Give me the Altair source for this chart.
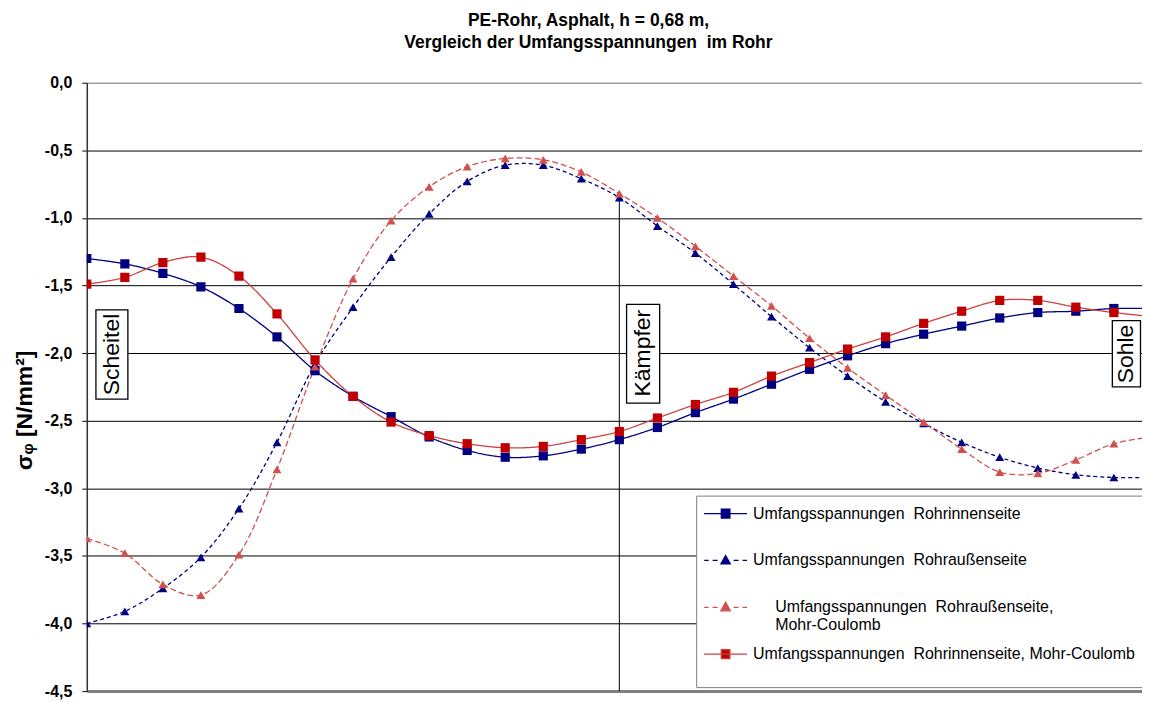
import altair as alt
import pandas as pd

# ---------------- data ----------------
idx = list(range(29))  # node index along the half circumference (Scheitel=0, Kämpfer=14, Sohle=28)

inner = [-1.30, -1.34, -1.41, -1.51, -1.67, -1.88, -2.13, -2.32, -2.47, -2.62,
         -2.72, -2.77, -2.76, -2.71, -2.64, -2.55, -2.44, -2.34, -2.23, -2.12,
         -2.02, -1.93, -1.86, -1.80, -1.74, -1.70, -1.69, -1.67, -1.67]
outer = [-4.00, -3.91, -3.74, -3.51, -3.15, -2.66, -2.08, -1.66, -1.29, -0.97,
         -0.73, -0.61, -0.61, -0.71, -0.85, -1.06, -1.26, -1.49, -1.73, -1.96,
         -2.17, -2.36, -2.52, -2.66, -2.77, -2.85, -2.90, -2.92, -2.92]
outer_mc = [-3.37, -3.48, -3.71, -3.79, -3.49, -2.86, -2.10, -1.45, -1.02, -0.77,
            -0.62, -0.56, -0.57, -0.66, -0.82, -1.00, -1.21, -1.43, -1.65, -1.89,
            -2.11, -2.31, -2.51, -2.71, -2.88, -2.89, -2.79, -2.67, -2.62]
inner_mc = [-1.49, -1.44, -1.33, -1.29, -1.43, -1.71, -2.05, -2.32, -2.51, -2.61,
            -2.67, -2.70, -2.69, -2.64, -2.58, -2.48, -2.38, -2.29, -2.17, -2.07,
            -1.97, -1.88, -1.78, -1.69, -1.61, -1.61, -1.66, -1.70, -1.73]

NB = "\u00a0"
ZW = "\u200b"
series_names = [
    "Umfangsspannungen" + NB + NB + "Rohrinnenseite",
    "Umfangsspannungen" + NB + NB + "Rohraußenseite",
    ZW + NB * 5 + "Umfangsspannungen" + NB + NB + "Rohraußenseite,|" + ZW + NB * 5 + "Mohr-Coulomb",
    "Umfangsspannungen" + NB + NB + "Rohrinnenseite, Mohr-Coulomb",
]
series_ids = ["s1", "s2", "s3", "s4"]
series_values = [inner, outer, outer_mc, inner_mc]

line_colors = ["#000080", "#000080", "#D05050", "#CC4040"]
marker_colors = ["#000080", "#000080", "#D05050", "#C00000"]
dashes = [[1, 0], [4, 3], [6, 3], [1, 0]]

# legend symbols: line + marker drawn as custom SVG paths
SOLID_SQ = "M-1.0,0H3.3M0.72,-0.45H1.58V0.45H0.72Z"
DASH_TRI = ("M-1.0,0H-0.55M-0.15,0H0.35M1.95,0H2.45M2.85,0H3.3"
            "M1.15,-0.5L1.62,0.35L0.68,0.35Z")
legend_paths = [SOLID_SQ, DASH_TRI, DASH_TRI, SOLID_SQ]

y_ticks = [0.0, -0.5, -1.0, -1.5, -2.0, -2.5, -3.0, -3.5, -4.0, -4.5]

# annotation labels (Scheitel / Kämpfer / Sohle)
ann_text = ["Scheitel", "Kämpfer", "Sohle"]
ann_x = [0.66, 14.63, 27.33]
ann_y = [-2.01, -2.00, -2.007]
ann_x1 = [0.24, 14.19, 26.96]
ann_x2 = [1.08, 15.06, 27.70]
ann_y1 = [-1.68, -1.64, -1.76]
ann_y2 = [-2.34, -2.37, -2.25]

kaempfer_x = [14]
kaempfer_y1 = [-0.82]
kaempfer_y2 = [-4.5]

# ---------------- tables ----------------
rows = []
for sid, name, vals in zip(series_ids, series_names, series_values):
    for i, v in zip(idx, vals):
        rows.append({"idx": i, "val": v, "series": name, "sid": sid})
df = pd.DataFrame(rows)

ann = pd.DataFrame({"text": ann_text, "x": ann_x, "y": ann_y,
                    "x1": ann_x1, "x2": ann_x2, "y1": ann_y1, "y2": ann_y2})
kdf = pd.DataFrame({"x": kaempfer_x, "y1": kaempfer_y1, "y2": kaempfer_y2})

XMAX = 27.74
FONT = "Liberation Sans"

xscale = alt.Scale(domain=[0, XMAX], nice=False, zero=False)
yscale = alt.Scale(domain=[-4.5, 0], nice=False)

x_enc = alt.X("idx:Q", scale=xscale,
              axis=alt.Axis(title=None, labels=False, ticks=False, grid=False,
                            domainColor="#808080", domainWidth=3))
y_enc = alt.Y("val:Q", scale=yscale,
              axis=alt.Axis(
                  title="σᵩ [N/mm²]",
                  values=y_ticks,
                  labelExpr="(datum.value < 0 ? '-' : '') + replace(format(abs(datum.value), '.1f'), '.', ',')",
                  labelFont=FONT, labelFontSize=16, labelFontWeight="bold", labelColor="black",
                  labelPadding=10,
                  tickSize=5, tickColor="black", tickWidth=1,
                  domainColor="#333333", domainWidth=1.5,
                  grid=True, gridWidth=1,
                  gridColor={"condition": {"test": "datum.value === 0", "value": "#808080"}, "value": "black"},
                  titleFont=FONT, titleFontSize=23, titleFontWeight="bold", titleColor="black",
                  titleAngle=270, titleAlign="center", titleBaseline="middle",
                  titleX=-62, titleY=328,
              ))

base = alt.Chart(df)

lines = base.mark_line(interpolate="catmull-rom", strokeWidth=1.3, clip=True).encode(
    x=x_enc,
    y=y_enc,
    color=alt.Color("sid:N", scale=alt.Scale(domain=series_ids, range=line_colors), legend=None),
    strokeDash=alt.StrokeDash("sid:N", scale=alt.Scale(domain=series_ids, range=dashes), legend=None),
    order=alt.Order("idx:Q"),
)

shapes = ["square", "triangle-up", "triangle-up", "square"]
sizes = [85, 80, 80, 85]
point_layers = []
for sid, col, shp, sz in zip(series_ids, marker_colors, shapes, sizes):
    point_layers.append(
        base.transform_filter(alt.datum.sid == sid).mark_point(
            filled=True, shape=shp, size=sz, color=col, opacity=1, clip=True
        ).encode(x="idx:Q", y="val:Q")
    )

legend_layer = base.transform_filter("datum.idx < 0").mark_point(filled=True, strokeWidth=1.3).encode(
    x="idx:Q", y="val:Q",
    fill=alt.Fill("series:N", scale=alt.Scale(domain=series_names, range=marker_colors)),
    stroke=alt.Stroke("series:N", scale=alt.Scale(domain=series_names, range=line_colors)),
    shape=alt.Shape("series:N", scale=alt.Scale(domain=series_names, range=legend_paths),
                    legend=alt.Legend(
                        title=None, orient="none", legendX=611, legendY=414,
                        direction="vertical",
                        symbolSize=400, symbolStrokeWidth=1.3, symbolOpacity=1,
                        labelFont=FONT, labelFontSize=16, labelColor="black",
                        labelOffset=28, labelLimit=600,
                        labelExpr="indexof(datum.label, '|') >= 0 ? split(datum.label, '|') : [datum.label, '']",
                        rowPadding=10, padding=7,
                        strokeColor="#808080", fillColor="white",
                    )),
)

rule = alt.Chart(kdf).mark_rule(color="black", strokeWidth=1).encode(
    x="x:Q", y="y1:Q", y2="y2:Q")

boxes = alt.Chart(ann).mark_rect(fill="white", stroke="black", strokeWidth=1.3).encode(
    x="x1:Q", x2="x2:Q", y="y1:Q", y2="y2:Q")

texts = alt.Chart(ann).mark_text(angle=270, font=FONT, fontSize=23, color="black",
                                  align="center", baseline="middle").encode(
    x="x:Q", y="y:Q", text="text:N")

chart = alt.layer(rule, lines, *point_layers, boxes, texts, legend_layer).properties(
    width=1058, height=610,
    autosize=alt.AutoSizeParams(type="none"),
    padding={"left": 79, "top": 74, "right": 0, "bottom": 8},
    title=alt.TitleParams(
        text=["PE-Rohr, Asphalt, h = 0,68 m,", "Vergleich der Umfangsspannungen" + NB + NB + "im Rohr"],
        font=FONT, fontSize=17.5, fontWeight="bold", color="black",
        anchor="middle", dx=-26, offset=23, lineHeight=22,
    ),
).configure_view(stroke=None).configure_legend(strokeWidth=1.5).configure(background="white")

chart.save("out.html", embed_options={"renderer": "svg", "actions": False})
